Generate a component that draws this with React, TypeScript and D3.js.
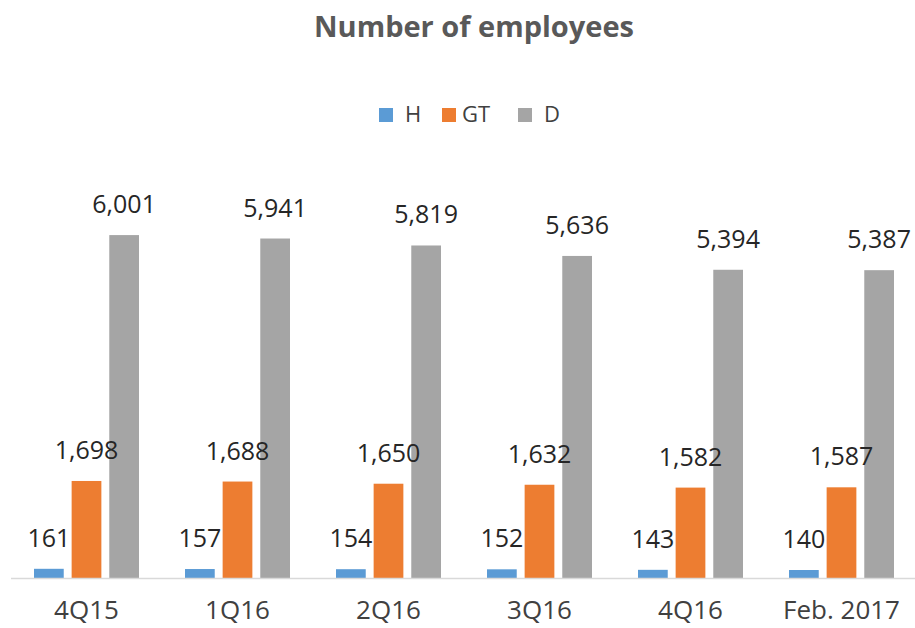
import React from "react";
import * as d3 from "d3";

const categories = ["4Q15", "1Q16", "2Q16", "3Q16", "4Q16", "Feb. 2017"];
const seriesNames = ["H", "GT", "D"];
const hValues = [161, 157, 154, 152, 143, 140];
const gtValues = [1698, 1688, 1650, 1632, 1582, 1587];
const dValues = [6001, 5941, 5819, 5636, 5394, 5387];
const colors = ["#5b9bd5", "#ed7d31", "#a5a5a5"];

const W = 915;
const H = 628;
const FONT = "'Open Sans', 'Liberation Sans', sans-serif";

export default function App() {
  const series = [hValues, gtValues, dValues];
  const x = d3.scaleBand<string>().domain(categories).range([11, 917]).paddingInner(0).paddingOuter(0);
  const xs = d3.scaleBand<string>().domain(seriesNames).range([23, 128]).paddingInner(0.21).paddingOuter(0);
  const y = d3.scaleLinear().domain([0, 7000]).range([578, 178]);
  const fmt = d3.format(",");
  const bw = xs.bandwidth();
  const bx = (si: number, ci: number) => (x(categories[ci]) as number) + (xs(seriesNames[si]) as number);

  const legendItems = [
    { name: "H", sq: 379, tx: 405 },
    { name: "GT", sq: 442, tx: 462 },
    { name: "D", sq: 518, tx: 544 },
  ];

  return (
    <svg width={W} height={H} style={{ position: "absolute", left: 0, top: 0, background: "#fff" }} fontFamily={FONT}>
      <rect x={0} y={0} width={W} height={H} fill="#fff" />
      <text x={474} y={37} textAnchor="middle" fontSize={29} fontWeight="bold" fill="#595959">
        Number of employees
      </text>
      {legendItems.map((it, i) => (
        <g key={it.name}>
          <rect x={it.sq} y={108} width={14} height={14} fill={colors[i]} />
          <text x={it.tx} y={122} fontSize={22} fill="#404040">{it.name}</text>
        </g>
      ))}
      {series.map((vals, si) =>
        vals.map((v, ci) => (
          <rect key={`b${si}-${ci}`} x={bx(si, ci)} y={y(v)} width={bw} height={578 - y(v)} fill={colors[si]} />
        ))
      )}
      <line x1={11} x2={915} y1={578.5} y2={578.5} stroke="#d9d9d9" strokeWidth={1.5} />
      {series.map((vals, si) =>
        vals.map((v, ci) => (
          <text key={`l${si}-${ci}`} x={bx(si, ci) + bw / 2} y={y(v) - 22} textAnchor="middle" fontSize={25} fill="#262626">
            {fmt(v)}
          </text>
        ))
      )}
      {categories.map((c) => (
        <text key={c} x={(x(c) as number) + x.bandwidth() / 2} y={619} textAnchor="middle" fontSize={26} fill="#404040">
          {c}
        </text>
      ))}
    </svg>
  );
}
